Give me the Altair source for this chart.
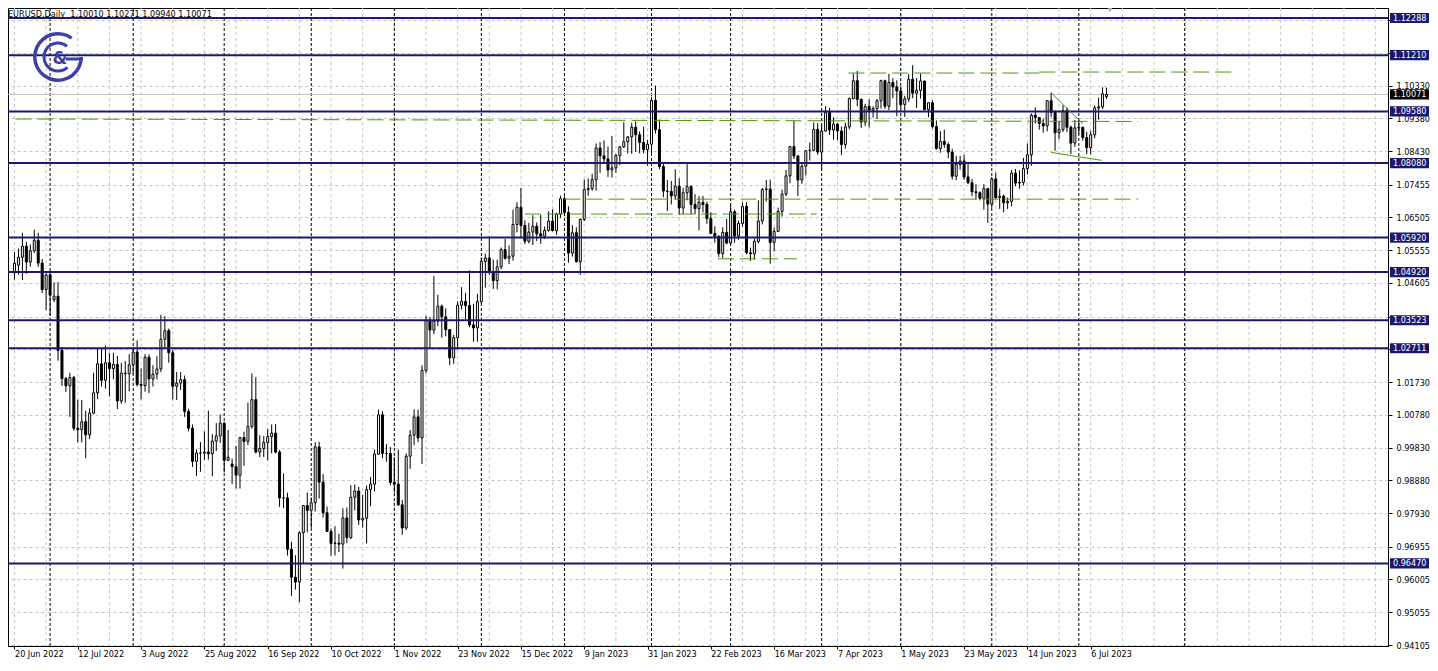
import altair as alt
import pandas as pd

FONT = "DejaVu Sans Condensed, Liberation Sans, sans-serif"
NAVY = "#191970"
GREEN = "#4c9800"
LOGO = "#3c40a8"

# ---------------- daily candles, 20 Jun 2022 ... 12 Jul 2023 ----------------
opens = [
    1.0490, 1.0512, 1.0535, 1.0567, 1.0521,
    1.0554, 1.0584, 1.0518, 1.0441, 1.0484,
    1.0412, 1.0422, 1.0265, 1.0183, 1.0162,
    1.0186, 1.0039, 1.0035, 1.0058, 1.0020,
    1.0083, 1.0142, 1.0226, 1.0178, 1.0229,
    1.0212, 1.0224, 1.0118, 1.0199, 1.0197,
    1.0223, 1.0260, 1.0166, 1.0163, 1.0245,
    1.0182, 1.0196, 1.0211, 1.0297, 1.0322,
    1.0258, 1.0161, 1.0170, 1.0180, 1.0088,
    1.0039, 0.9943, 0.9967, 0.9967, 0.9970,
    0.9965, 1.0002, 1.0017, 1.0054, 0.9946,
    0.9935, 0.9928, 0.9903, 1.0012, 1.0001,
    1.0044, 1.0122, 0.9970, 0.9980, 0.9998,
    1.0015, 1.0025, 0.9970, 0.9837, 0.9837,
    0.9688, 0.9607, 0.9593, 0.9736, 0.9815,
    0.9801, 0.9823, 0.9985, 0.9883, 0.9794,
    0.9740, 0.9705, 0.9706, 0.9703, 0.9779,
    0.9722, 0.9839, 0.9857, 0.9773, 0.9778,
    0.9861, 0.9877, 0.9964, 1.0078, 0.9966,
    0.9966, 0.9882, 0.9877, 0.9817, 0.9750,
    0.9958, 1.0019, 1.0072, 1.0011, 1.0207,
    1.0353, 1.0324, 1.0350, 1.0393, 1.0362,
    1.0325, 1.0243, 1.0302, 1.0396, 1.0407,
    1.0395, 1.0339, 1.0330, 1.0406, 1.0523,
    1.0533, 1.0492, 1.0467, 1.0507, 1.0557,
    1.0532, 1.0538, 1.0630, 1.0680, 1.0627,
    1.0581, 1.0608, 1.0625, 1.0603, 1.0596,
    1.0613, 1.0640, 1.0612, 1.0660,
    1.0705, 1.0665, 1.0547, 1.0606, 1.0522,
    1.0645, 1.0731, 1.0734, 1.0760, 1.0852,
    1.0829, 1.0820, 1.0788, 1.0794, 1.0830,
    1.0855, 1.0870, 1.0884, 1.0912, 1.0890,
    1.0868, 1.0847, 1.0863, 1.0990, 1.0905,
    1.0798, 1.0727, 1.0726, 1.0713, 1.0741,
    1.0678, 1.0722, 1.0740, 1.0688, 1.0676,
    1.0694, 1.0688, 1.0647, 1.0604, 1.0596,
    1.0546, 1.0607, 1.0576, 1.0667, 1.0597,
    1.0633, 1.0682, 1.0548, 1.0545, 1.0581,
    1.0640, 1.0731, 1.0733, 1.0578, 1.0610,
    1.0668, 1.0718, 1.0771, 1.0856, 1.0829,
    1.0759, 1.0799, 1.0844, 1.0845, 1.0906,
    1.0840, 1.0901, 1.0955, 1.0904, 1.0921,
    1.0901, 1.0862, 1.0913, 1.0995, 1.1047,
    1.0993, 1.0927, 1.0972, 1.0961, 1.0966,
    1.0989, 1.1047, 1.0973, 1.1042, 1.1029,
    1.1017, 1.0978, 1.0994, 1.1051, 1.1011,
    1.1019, 1.1046, 1.0963, 1.0983, 1.0914,
    1.0850, 1.0871, 1.0862, 1.0840, 1.0770,
    1.0804, 1.0814, 1.0768, 1.0751, 1.0725,
    1.0722, 1.0706, 1.0734, 1.0689, 1.0762,
    1.0708, 1.0712, 1.0693, 1.0697, 1.0779,
    1.0750, 1.0752, 1.0792, 1.0832, 1.0947,
    1.0940, 1.0923, 1.0916, 1.0989, 1.0955,
    1.0896, 1.0905, 1.0960, 1.0912, 1.0866,
    1.0910, 1.0912, 1.0882, 1.0853, 1.0890,
    1.0968, 1.0971, 1.10010,
]
highs = [
    1.0550, 1.0560, 1.0606, 1.0580, 1.0572,
    1.0615, 1.0606, 1.0530, 1.0488, 1.0487,
    1.0462, 1.0463, 1.0275, 1.0188, 1.0200,
    1.0191, 1.0122, 1.0121, 1.0090, 1.0097,
    1.0200, 1.0269, 1.0273, 1.0278, 1.0257,
    1.0258, 1.0249, 1.0229, 1.0234, 1.0254,
    1.0274, 1.0294, 1.0212, 1.0254, 1.0253,
    1.0222, 1.0248, 1.0368, 1.0364, 1.0328,
    1.0266, 1.0202, 1.0202, 1.0192, 1.0096,
    1.0050, 0.9978, 0.9999, 1.0030, 1.0090,
    1.0022, 1.0054, 1.0079, 1.0057, 1.0034,
    0.9951, 0.9988, 1.0013, 1.0029, 1.0113,
    1.0198, 1.0187, 1.0019, 1.0017, 1.0037,
    1.0050, 1.0051, 0.9976, 0.9908, 0.9852,
    0.9710, 0.9671, 0.9740, 0.9815, 0.9853,
    0.9838, 0.9999, 1.0000, 0.9906, 0.9812,
    0.9748, 0.9755, 0.9733, 0.9807, 0.9809,
    0.9874, 0.9876, 0.9869, 0.9846, 0.9873,
    0.9898, 0.9977, 1.0093, 1.0088, 0.9993,
    0.9985, 0.9955, 0.9977, 0.9831, 0.9966,
    1.0034, 1.0094, 1.0093, 1.0222, 1.0365,
    1.0362, 1.0481, 1.0426, 1.0398, 1.0387,
    1.0327, 1.0310, 1.0407, 1.0448, 1.0432,
    1.0497, 1.0400, 1.0429, 1.0535, 1.0545,
    1.0595, 1.0528, 1.0528, 1.0563, 1.0588,
    1.0569, 1.0673, 1.0695, 1.0736, 1.0642,
    1.0635, 1.0657, 1.0636, 1.0658, 1.0624,
    1.0668, 1.0674, 1.0664, 1.0714,
    1.0712, 1.0683, 1.0628, 1.0622, 1.0647,
    1.0760, 1.0763, 1.0777, 1.0865, 1.0869,
    1.0874, 1.0856, 1.0887, 1.0835, 1.0857,
    1.0927, 1.0887, 1.0925, 1.0929, 1.0900,
    1.0914, 1.0875, 1.1000, 1.1033, 1.0934,
    1.0806, 1.0759, 1.0756, 1.0790, 1.0764,
    1.0736, 1.0805, 1.0743, 1.0718, 1.0712,
    1.0713, 1.0696, 1.0665, 1.0625, 1.0598,
    1.0622, 1.0646, 1.0691, 1.0673, 1.0641,
    1.0694, 1.0695, 1.0563, 1.0589, 1.0700,
    1.0736, 1.0759, 1.0760, 1.0621, 1.0679,
    1.0731, 1.0788, 1.0857, 1.0930, 1.0830,
    1.0809, 1.0845, 1.0868, 1.0926, 1.0924,
    1.0919, 1.0973, 1.0968, 1.0941, 1.0924,
    1.0914, 1.0925, 1.0998, 1.1068, 1.1075,
    1.0995, 1.0980, 1.0993, 1.0973, 1.0994,
    1.1050, 1.1050, 1.1067, 1.1054, 1.1048,
    1.1030, 1.1003, 1.1066, 1.1092, 1.1055,
    1.1068, 1.1047, 1.0984, 1.0990, 1.0932,
    1.0901, 1.0905, 1.0868, 1.0850, 1.0829,
    1.0829, 1.0832, 1.0806, 1.0762, 1.0747,
    1.0726, 1.0747, 1.0736, 1.0768, 1.0780,
    1.0734, 1.0717, 1.0708, 1.0788, 1.0791,
    1.0787, 1.0823, 1.0865, 1.0952, 1.0970,
    1.0941, 1.0937, 1.0990, 1.1012, 1.0961,
    1.0930, 1.0976, 1.0969, 1.0917, 1.0933,
    1.0934, 1.0913, 1.0899, 1.0902, 1.0975,
    1.0998, 1.1028, 1.10271,
]
lows = [
    1.0470, 1.0485, 1.0469, 1.0487, 1.0508,
    1.0547, 1.0507, 1.0431, 1.0382, 1.0366,
    1.0405, 1.0235, 1.0162, 1.0144, 1.0072,
    1.0032, 0.9998, 0.9998, 0.9952, 1.0008,
    1.0079, 1.0124, 1.0160, 1.0154, 1.0131,
    1.0181, 1.0095, 1.0110, 1.0113, 1.0146,
    1.0196, 1.0160, 1.0123, 1.0145, 1.0141,
    1.0160, 1.0181, 1.0202, 1.0273, 1.0229,
    1.0123, 1.0121, 1.0150, 1.0072, 1.0030,
    0.9927, 0.9901, 0.9913, 0.9947, 0.9948,
    0.9900, 0.9973, 0.9997, 0.9911, 0.9944,
    0.9877, 0.9864, 0.9864, 0.9930, 0.9990,
    1.0038, 0.9966, 0.9955, 0.9956, 0.9946,
    0.9966, 0.9966, 0.9811, 0.9807, 0.9670,
    0.9553, 0.9571, 0.9535, 0.9648, 0.9737,
    0.9750, 0.9798, 0.9835, 0.9780, 0.9739,
    0.9670, 0.9670, 0.9680, 0.9632, 0.9706,
    0.9718, 0.9801, 0.9759, 0.9751, 0.9705,
    0.9813, 0.9856, 0.9962, 0.9952, 0.9942,
    0.9874, 0.9853, 0.9814, 0.9730, 0.9744,
    0.9921, 0.9990, 0.9999, 0.9935, 1.0198,
    1.0271, 1.0312, 1.0335, 1.0302, 1.0306,
    1.0222, 1.0226, 1.0268, 1.0383, 1.0356,
    1.0332, 1.0290, 1.0290, 1.0400, 1.0447,
    1.0484, 1.0443, 1.0442, 1.0500, 1.0528,
    1.0515, 1.0525, 1.0607, 1.0591, 1.0573,
    1.0575, 1.0570, 1.0582, 1.0574, 1.0588,
    1.0609, 1.0610, 1.0600, 1.0649,
    1.0656, 1.0519, 1.0537, 1.0520, 1.0484,
    1.0640, 1.0713, 1.0728, 1.0728, 1.0780,
    1.0807, 1.0768, 1.0766, 1.0780, 1.0802,
    1.0852, 1.0836, 1.0835, 1.0841, 1.0836,
    1.0836, 1.0801, 1.0831, 1.0894, 1.0790,
    1.0709, 1.0669, 1.0688, 1.0702, 1.0658,
    1.0660, 1.0700, 1.0660, 1.0660, 1.0613,
    1.0665, 1.0632, 1.0602, 1.0577, 1.0536,
    1.0533, 1.0573, 1.0574, 1.0577, 1.0586,
    1.0623, 1.0544, 1.0524, 1.0528, 1.0575,
    1.0630, 1.0696, 1.0516, 1.0552, 1.0608,
    1.0653, 1.0712, 1.0750, 1.0820, 1.0713,
    1.0748, 1.0772, 1.0815, 1.0842, 1.0832,
    1.0788, 1.0899, 1.0890, 1.0876, 1.0875,
    1.0831, 1.0850, 1.0906, 1.0993, 1.0973,
    1.0910, 1.0915, 1.0911, 1.0940, 1.0936,
    1.0966, 1.0965, 1.0962, 1.0996, 1.0944,
    1.0966, 1.0942, 1.0985, 1.0996, 1.0968,
    1.0995, 1.0961, 1.0941, 1.0908, 1.0847,
    1.0838, 1.0852, 1.0822, 1.0760, 1.0759,
    1.0789, 1.0760, 1.0748, 1.0712, 1.0702,
    1.0700, 1.0673, 1.0635, 1.0678, 1.0703,
    1.0675, 1.0665, 1.0675, 1.0683, 1.0741,
    1.0734, 1.0743, 1.0775, 1.0800, 1.0923,
    1.0905, 1.0896, 1.0900, 1.0941, 1.0844,
    1.0877, 1.0898, 1.0898, 1.0834, 1.0855,
    1.0892, 1.0873, 1.0834, 1.0833, 1.0880,
    1.0934, 1.0965, 1.09940,
]
closes = [
    1.0518, 1.0535, 1.0567, 1.0521, 1.0554,
    1.0584, 1.0518, 1.0441, 1.0484, 1.0425,
    1.0422, 1.0265, 1.0183, 1.0162, 1.0186,
    1.0039, 1.0035, 1.0058, 1.0020, 1.0083,
    1.0142, 1.0226, 1.0178, 1.0229, 1.0212,
    1.0224, 1.0118, 1.0199, 1.0197, 1.0223,
    1.0260, 1.0166, 1.0163, 1.0245, 1.0182,
    1.0196, 1.0211, 1.0297, 1.0322, 1.0258,
    1.0161, 1.0170, 1.0180, 1.0088, 1.0039,
    0.9943, 0.9967, 0.9967, 0.9970, 0.9965,
    1.0002, 1.0017, 1.0054, 0.9946, 0.9955,
    0.9928, 0.9903, 1.0012, 1.0001, 1.0044,
    1.0122, 0.9970, 0.9980, 0.9998, 1.0015,
    1.0025, 0.9970, 0.9837, 0.9837, 0.9688,
    0.9607, 0.9593, 0.9736, 0.9815, 0.9801,
    0.9823, 0.9985, 0.9883, 0.9794, 0.9740,
    0.9705, 0.9706, 0.9703, 0.9779, 0.9722,
    0.9839, 0.9857, 0.9773, 0.9778, 0.9861,
    0.9877, 0.9964, 1.0078, 0.9966, 0.9966,
    0.9882, 0.9877, 0.9817, 0.9750, 0.9958,
    1.0019, 1.0072, 1.0011, 1.0207, 1.0353,
    1.0324, 1.0350, 1.0393, 1.0362, 1.0325,
    1.0243, 1.0302, 1.0396, 1.0407, 1.0395,
    1.0339, 1.0330, 1.0406, 1.0523, 1.0533,
    1.0492, 1.0467, 1.0507, 1.0557, 1.0532,
    1.0538, 1.0630, 1.0680, 1.0627, 1.0581,
    1.0608, 1.0625, 1.0603, 1.0596, 1.0613,
    1.0640, 1.0612, 1.0660, 1.0705,
    1.0665, 1.0547, 1.0606, 1.0522, 1.0645,
    1.0731, 1.0734, 1.0760, 1.0852, 1.0829,
    1.0820, 1.0788, 1.0794, 1.0830, 1.0855,
    1.0870, 1.0884, 1.0912, 1.0890, 1.0868,
    1.0847, 1.0863, 1.0990, 1.0905, 1.0798,
    1.0727, 1.0726, 1.0713, 1.0741, 1.0678,
    1.0722, 1.0740, 1.0688, 1.0676, 1.0694,
    1.0688, 1.0647, 1.0604, 1.0596, 1.0546,
    1.0607, 1.0576, 1.0667, 1.0597, 1.0633,
    1.0682, 1.0548, 1.0545, 1.0581, 1.0640,
    1.0731, 1.0733, 1.0578, 1.0610, 1.0668,
    1.0718, 1.0771, 1.0856, 1.0829, 1.0759,
    1.0799, 1.0844, 1.0845, 1.0906, 1.0840,
    1.0901, 1.0955, 1.0904, 1.0921, 1.0901,
    1.0862, 1.0913, 1.0995, 1.1047, 1.0993,
    1.0927, 1.0972, 1.0961, 1.0966, 1.0989,
    1.1047, 1.0973, 1.1042, 1.1029, 1.1017,
    1.0978, 1.0994, 1.1051, 1.1011, 1.1019,
    1.1046, 1.0963, 1.0983, 1.0914, 1.0850,
    1.0871, 1.0862, 1.0840, 1.0770, 1.0804,
    1.0814, 1.0768, 1.0751, 1.0725, 1.0722,
    1.0706, 1.0734, 1.0689, 1.0762, 1.0708,
    1.0712, 1.0693, 1.0697, 1.0779, 1.0750,
    1.0752, 1.0792, 1.0832, 1.0947, 1.0940,
    1.0923, 1.0916, 1.0989, 1.0955, 1.0896,
    1.0905, 1.0960, 1.0912, 1.0866, 1.0910,
    1.0912, 1.0882, 1.0853, 1.0890, 1.0968,
    1.0971, 1.1009, 1.10071,
]

# ---------------- horizontal levels & axis ----------------
level_prices = [1.12288, 1.11210, 1.09580, 1.08080, 1.05920, 1.04920, 1.03523, 1.02711, 0.96470]
grid_prices = [0.94105, 0.95055, 0.96005, 0.96955, 0.97930, 0.98880, 0.99830, 1.00780,
               1.01730, 1.02680, 1.03630, 1.04605, 1.05555, 1.06505, 1.07455, 1.08430,
               1.09380, 1.10330, 1.11280, 1.12230]
hidden_grid_labels = [1.12230, 1.11280, 1.03630, 1.02680]
label_idx = [0, 16, 32, 48, 64, 80, 96, 112, 128, 144, 160, 176, 192, 208, 224, 240, 256, 272]
label_text = ["20 Jun 2022", "12 Jul 2022", "3 Aug 2022", "25 Aug 2022", "16 Sep 2022",
              "10 Oct 2022", "1 Nov 2022", "23 Nov 2022", "15 Dec 2022", "9 Jan 2023",
              "31 Jan 2023", "22 Feb 2023", "16 Mar 2023", "7 Apr 2023", "1 May 2023",
              "23 May 2023", "14 Jun 2023", "6 Jul 2023"]
vgrid_idx = list(range(0, 345, 8))
month_sep_idx = [9, 30, 53, 75, 96, 118, 139, 161, 181, 204, 224, 247, 269, 295.75]

# dashed trend/level objects (bar index, price)
seg_x1 = [210.75, 259.0, 0.25, 139.0, 129.0, 177.75]
seg_y1 = [1.10692, 1.10721, 1.09359, 1.07035, 1.06603, 1.05304]
seg_x2 = [259.0, 307.75, 284.0, 284.0, 202.75, 197.75]
seg_y2 = [1.10692, 1.10721, 1.09287, 1.07035, 1.06603, 1.05304]
# thin wedge lines
wedge_x1 = [262.0, 262.0]
wedge_y1 = [1.1012, 1.0839]
wedge_x2 = [270.0, 274.75]
wedge_y2 = [1.0922, 1.0816]

n = len(closes)
assert len(opens) == n and len(highs) == n and len(lows) == n

candles = pd.DataFrame({"i": list(range(n)), "o": opens, "h": highs, "l": lows, "c": closes})
levels = pd.DataFrame({"p": level_prices})
segs = pd.DataFrame({"x1": seg_x1, "y1": seg_y1, "x2": seg_x2, "y2": seg_y2})
wedges = pd.DataFrame({"x1": wedge_x1, "y1": wedge_y1, "x2": wedge_x2, "y2": wedge_y2})
bid = pd.DataFrame({"p": [closes[-1]]})
one = pd.DataFrame({"a": [0]})

W, H = 1380, 638
XS = alt.Scale(domain=[-0.375, 345.875], nice=False, zero=False)
YS = alt.Scale(domain=[0.94076, 1.12578], nice=False, zero=False)

label_arr = "[" + ",".join("'" + t + "'" for t in label_text) + "]"
hidden_arr = "[" + ",".join(repr(v) for v in hidden_grid_labels) + "]"
XA = alt.Axis(values=label_idx, labelExpr=label_arr + "[round(datum.value/16)]",
              grid=False, tickColor="black", tickSize=3, domainColor="black",
              labelAlign="left", labelBaseline="top", labelPadding=0,
              labelFont=FONT, labelFontSize=9, labelColor="black",
              labelFlush=False, labelOverlap=False, title=None)
YA = alt.Axis(orient="right", values=grid_prices, format=".5f", grid=True,
              labelExpr="indexof(" + hidden_arr + ", datum.value) >= 0 ? '' : datum.label",
              gridColor="#c4c4c4", gridDash=[3, 3], gridWidth=1,
              tickColor="black", tickSize=4, domainColor="black",
              labelFont=FONT, labelFontSize=9, labelColor="black",
              labelPadding=4, labelOverlap=False, labelFlush=False, title=None)


def X(f):
    return alt.X(f, scale=XS, axis=XA)


def Y(f):
    return alt.Y(f, scale=YS, axis=YA)


vgrid = alt.Chart(pd.DataFrame({"g": vgrid_idx})).mark_rule(
    color="#c4c4c4", strokeDash=[3, 3], strokeWidth=1
).encode(x=X("g:Q"))

seps = alt.Chart(pd.DataFrame({"m": month_sep_idx})).mark_rule(
    color="black", strokeDash=[3, 2], strokeWidth=1
).encode(x=X("m:Q"))

bidline = alt.Chart(bid).mark_rule(color="#c0c0c0", strokeWidth=1).encode(y=Y("p:Q"))

wicks = alt.Chart(candles).mark_rule(color="black", strokeWidth=1).encode(
    x=X("i:Q"), y=Y("l:Q"), y2="h:Q")
bodies = alt.Chart(candles).mark_bar(size=2, stroke="black", strokeWidth=1, orient="vertical").encode(
    x=X("i:Q"), y=Y("o:Q"), y2="c:Q",
    fill=alt.when(alt.datum.c >= alt.datum.o).then(alt.value("white")).otherwise(alt.value("black")),
)

level_rules = alt.Chart(levels).mark_rule(color=NAVY, strokeWidth=2).encode(y=Y("p:Q"))

seg_rules = alt.Chart(segs).mark_rule(color=GREEN, strokeDash=[16, 6], strokeWidth=1).encode(
    x=X("x1:Q"), x2="x2:Q", y=Y("y1:Q"), y2="y2:Q")

wedge_rules = alt.Chart(wedges).mark_rule(color=GREEN, strokeWidth=1).encode(
    x=X("x1:Q"), x2="x2:Q", y=Y("y1:Q"), y2="y2:Q")

# price tags on the right axis
HALF = 0.00148
BX0, BX1, TX = W + 2, W + 41, W + 5
tag_boxes = alt.Chart(levels).transform_calculate(
    lo=f"datum.p - {HALF}", hi=f"datum.p + {HALF}"
).mark_rect(color=NAVY).encode(
    x=alt.value(BX0), x2=alt.value(BX1), y=Y("lo:Q"), y2="hi:Q")
tag_text = alt.Chart(levels).mark_text(
    align="left", baseline="middle", color="white", font=FONT, fontSize=9
).encode(x=alt.value(TX), y=Y("p:Q"), text=alt.Text("p:Q", format=".5f"))

bid_box = alt.Chart(bid).transform_calculate(
    lo=f"datum.p - {HALF}", hi=f"datum.p + {HALF}"
).mark_rect(color="black").encode(
    x=alt.value(BX0), x2=alt.value(BX1), y=Y("lo:Q"), y2="hi:Q")
bid_text = alt.Chart(bid).mark_text(
    align="left", baseline="middle", color="white", font=FONT, fontSize=9
).encode(x=alt.value(TX), y=Y("p:Q"), text=alt.Text("p:Q", format=".5f"))

title_str = "EURUSD,Daily\u00a0\u00a0{:.5f} {:.5f} {:.5f} {:.5f}".format(opens[-1], highs[-1], lows[-1], closes[-1])
title = alt.Chart(one).mark_text(
    align="left", baseline="alphabetic", font=FONT, fontSize=9, color="black"
).encode(x=alt.value(0), y=alt.value(8.5), text=alt.value(title_str))

# logo
logo_outer = alt.Chart(one).mark_arc(
    theta=1.571, theta2=6.91, innerRadius=21.5, outerRadius=25, color=LOGO
).encode(x=alt.value(50), y=alt.value(49))
logo_inner = alt.Chart(one).mark_arc(
    theta=2.4, theta2=6.98, innerRadius=12.5, outerRadius=15.5, color=LOGO
).encode(x=alt.value(50), y=alt.value(49))
logo_bar = alt.Chart(one).mark_rule(color=LOGO, strokeWidth=3).encode(
    x=alt.value(58), x2=alt.value(75), y=alt.value(51))
logo_amp = alt.Chart(one).mark_text(
    font="DejaVu Sans", fontSize=17, fontWeight="bold", color=LOGO, align="center", baseline="middle"
).encode(x=alt.value(52), y=alt.value(51), text=alt.value("&"))

shift_marker = alt.Chart(one).mark_point(
    shape="triangle-down", filled=True, color="#a8a8a8", size=45, opacity=1
).encode(x=alt.value(1102), y=alt.value(1))

chart = alt.layer(
    vgrid, seps, bidline, wicks, bodies, level_rules, seg_rules, wedge_rules,
    tag_boxes, tag_text, bid_box, bid_text, title,
    logo_outer, logo_inner, logo_bar, logo_amp, shift_marker,
).properties(
    width=W, height=H,
    padding={"left": 0, "top": 0, "right": 42, "bottom": 13},
    autosize=alt.AutoSizeParams(type="none"),
    background="white",
).configure_view(stroke="black", strokeWidth=1)

chart.save("out.html", embed_options={"renderer": "svg", "actions": False})
